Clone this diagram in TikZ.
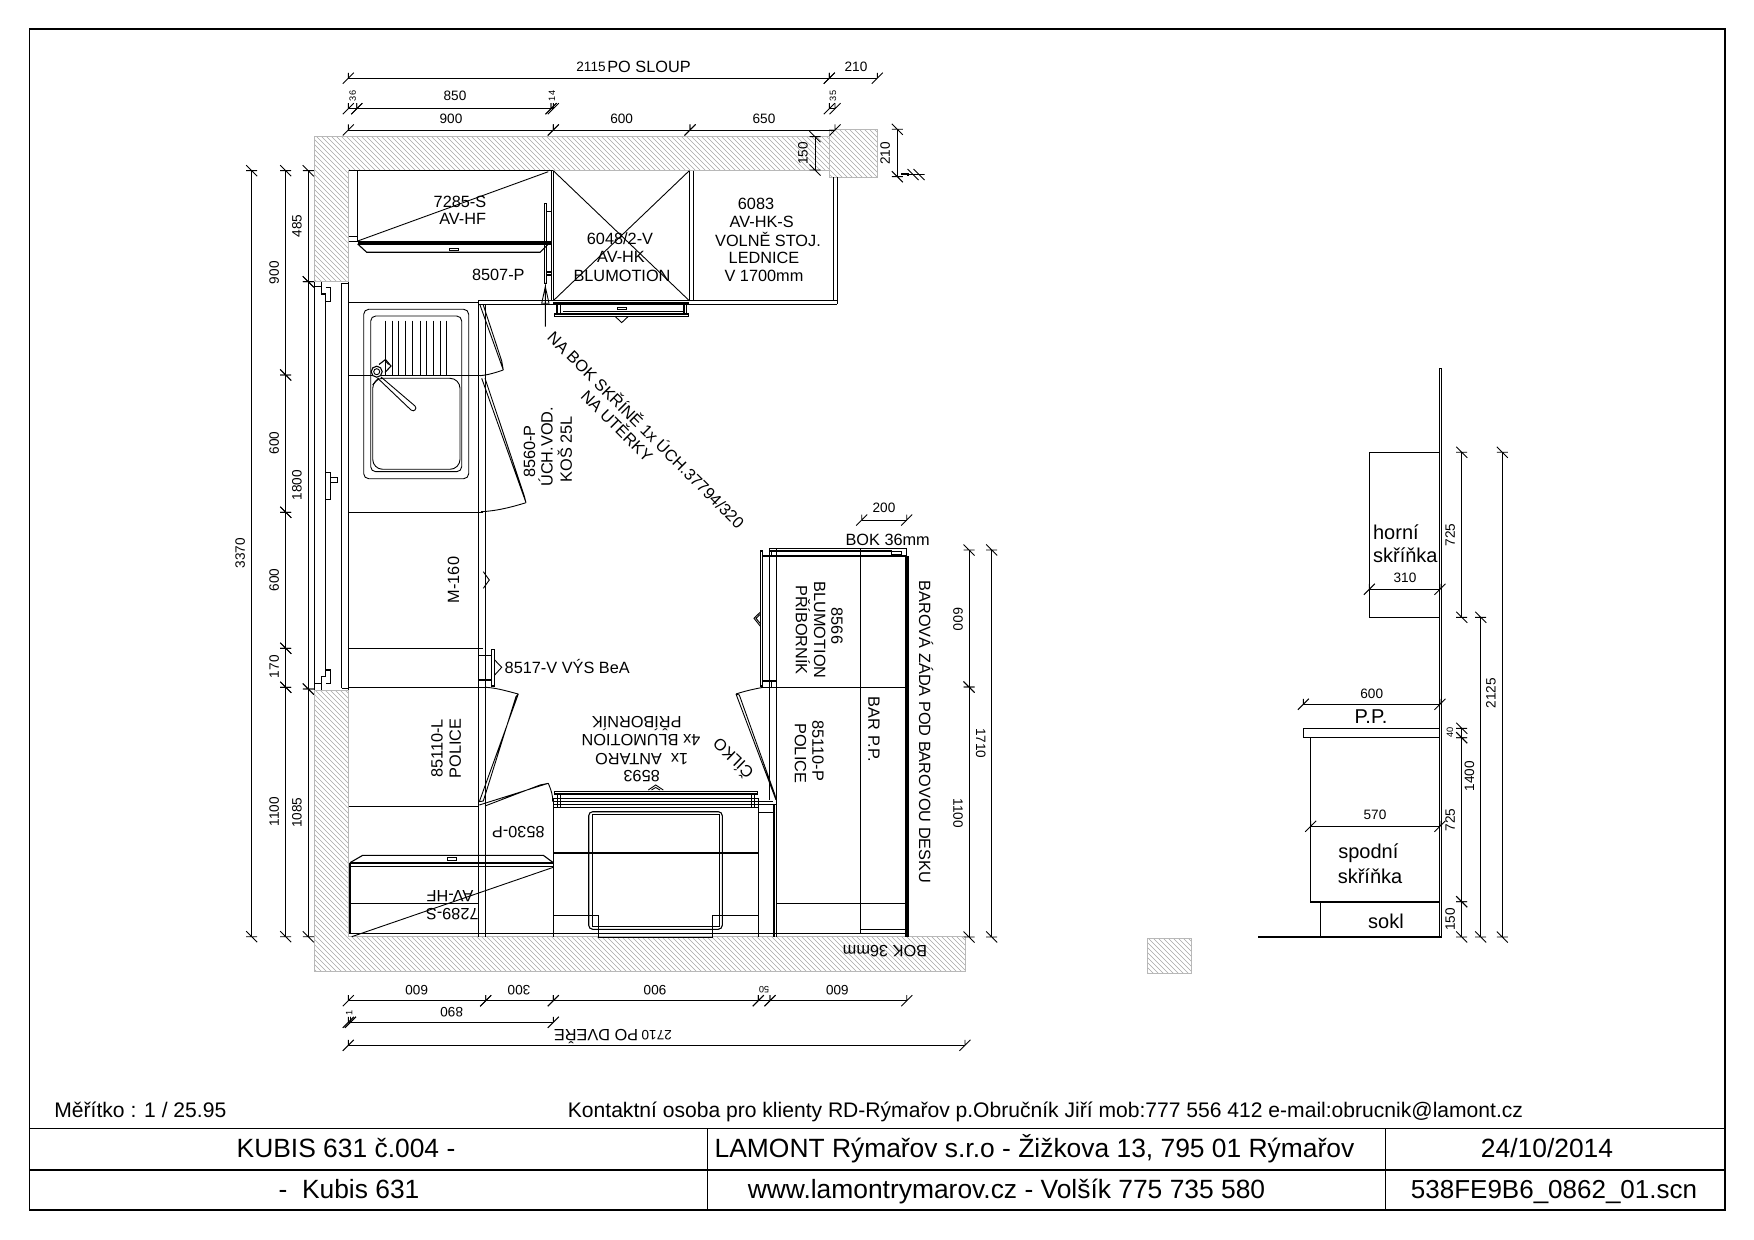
\documentclass[tikz,border=0pt]{standalone}
\usepackage{fontspec}
\setmainfont{Liberation Sans}
\newcount\lbln
\newcommand{\lbl}[4][labtx]{\global\advance\lbln by 1 \node[#1,name=t\the\lbln] at (#2,#3) {#4};}
\newcommand{\tickH}[2]{\draw[tk] (#1-5.5,#2+5.5) -- (#1+5.5,#2-5.5) (#1,#2-5.5) -- (#1,#2);}
\newcommand{\tickV}[2]{\draw[tk] (#1-5.5,#2-5.5) -- (#1+5.5,#2+5.5) (#1-5.5,#2) -- (#1+5.5,#2);}
\newcommand{\dH}[3]{\draw[tk] (#1,#3) -- (#2,#3); \tickH{#1}{#3} \tickH{#2}{#3}}
\newcommand{\dV}[3]{\draw[tk] (#3,#1) -- (#3,#2); \tickV{#3}{#1} \tickV{#3}{#2}}
\newcommand{\hatchfill}[1]{%
  \begin{scope}
    \clip #1;
    \foreach \c in {-1000,-995,...,1800} {\draw[hatchln] (\c,0) -- (\c+1240,1240);}
  \end{scope}
  \draw[hatchbd] #1;}
\tikzset{
  pl/.style={line width=0.55pt,black},
  tk/.style={line width=0.45pt,black},
  thk/.style={line width=1.05pt,black},
  vthk/.style={line width=2pt,black},
  hatchln/.style={line width=0.3pt,black!35},
  hatchbd/.style={line width=0.5pt,black!28},
  labtx/.style={font=\fontsize{8.15}{9}\selectfont,inner sep=0pt,text height=5.85pt,text depth=0pt},
  lab90/.style={labtx,rotate=90},
  labm90/.style={labtx,rotate=-90},
  lab180/.style={labtx,rotate=180},
  dimtx/.style={font=\fontsize{6.8}{8}\selectfont,inner sep=0pt,text height=4.9pt,text depth=0pt},
  dim90/.style={dimtx,rotate=90},
  dimm90/.style={dimtx,rotate=-90},
  dim180/.style={dimtx,rotate=180},
  tinytx/.style={font=\fontsize{4.6}{5}\selectfont,inner sep=0pt,rotate=90},
  bigtx/.style={font=\fontsize{10}{11}\selectfont,inner sep=0pt},
  foottx/.style={font=\fontsize{10.54}{12}\selectfont,inner sep=0pt,anchor=base},
  titletx/.style={font=\fontsize{13.2}{15}\selectfont,inner sep=0pt,anchor=base},
}
\begin{document}
\begin{tikzpicture}[x=0.5pt,y=-0.5pt]
\useasboundingbox (0,0) rectangle (1754,1240);
\fill[white] (0,0) rectangle (1754,1240);
% frame and title block
\draw[pl] (29.3,29) rectangle (1725,1210);
\draw[pl] (29.3,1128.5) -- (1725,1128.5);
\draw[pl] (29.3,1170) -- (1725,1170);
\draw[tk] (707,1128.5) -- (707,1210);
\draw[tk] (1385.5,1128.5) -- (1385.5,1210);
\lbl[foottx,anchor=base west]{54}{1117}{Měřítko : 1 / 25.95}
\lbl[foottx]{1045.5}{1117}{Kontaktní osoba pro klienty RD-Rýmařov p.Obručník Jiří mob:777 556 412 e-mail:obrucnik@lamont.cz}
\lbl[titletx]{346}{1157}{KUBIS 631 č.004 -}
\lbl[titletx]{349}{1198}{-\ \ Kubis 631}
\lbl[titletx]{1034.5}{1157}{LAMONT Rýmařov s.r.o - Žižkova 13, 795 01 Rýmařov}
\lbl[titletx]{1006.5}{1198}{www.lamontrymarov.cz - Volšík 775 735 580}
\lbl[titletx]{1547}{1157}{24/10/2014}
\lbl[titletx,font=\fontsize{13}{15}\selectfont]{1554}{1198}{538FE9B6\_0862\_01.scn}
% walls
\hatchfill{(314,137) -- (829.3,137) -- (829.3,170.7) -- (348.7,170.7) -- (348.7,281.7) -- (314,281.7) -- cycle}
\hatchfill{(829.3,129.3) -- (877.7,129.3) -- (877.7,177.3) -- (829.3,177.3) -- cycle}
\hatchfill{(314,690) -- (348.7,690) -- (348.7,936.7) -- (965.7,936.7) -- (965.7,971.5) -- (314,971.5) -- cycle}
\hatchfill{(1147.5,938.5) -- (1191.5,938.5) -- (1191.5,973) -- (1147.5,973) -- cycle}
% top dimensions
\dH{348.3}{829.3}{78.3}
\dH{829.3}{877.3}{78.3}
\lbl[dimtx]{591}{66.5}{2115}
\lbl{649}{67}{PO SLOUP}
\lbl[dimtx]{856}{67}{210}
\dH{356.7}{551}{108.7}
\dH{348.3}{356.7}{108.7}
\dH{551}{553.3}{108.7}
\dH{829.3}{835}{108.7}
\lbl[dimtx]{455}{96}{850}
\lbl[tinytx]{352.7}{96}{36}
\lbl[tinytx]{552}{96}{14}
\lbl[tinytx]{833}{96}{35}
\dH{348.3}{553.3}{130}
\dH{553.3}{690}{130}
\dH{690}{835}{130}
\lbl[dimtx]{451}{118.7}{900}
\lbl[dimtx]{621.7}{118.7}{600}
\lbl[dimtx]{764}{118.7}{650}
\dV{136.7}{170}{815}
\lbl[dim90]{802.7}{153.3}{150}
\dV{129.3}{176.7}{897.3}
\lbl[dim90]{885}{153.3}{210}
\draw[tk] (913,174.5) -- (919,174.5);
\tickV{913}{174.5} \tickV{919}{174.5}
\draw[thk] (901,174) -- (908,174) -- (908,176);
% left dimensions
\dV{170.7}{936.7}{251.7}
\lbl[dim90]{240}{553}{3370}
\dV{170.7}{375}{285.7}
\dV{375}{512.3}{285.7}
\dV{512.3}{648.3}{285.7}
\dV{648.3}{687.3}{285.7}
\dV{687.3}{936.7}{285.7}
\lbl[dim90]{274}{272.7}{900}
\lbl[dim90]{274}{443}{600}
\lbl[dim90]{274}{580}{600}
\lbl[dim90]{274}{666.7}{170}
\lbl[dim90]{274}{811.7}{1100}
\dV{170.7}{281.7}{308.3}
\dV{281.7}{689}{308.3}
\dV{689}{936.7}{308.3}
\lbl[dim90]{296.7}{226}{485}
\lbl[dim90]{296.7}{485}{1800}
\lbl[dim90]{296.7}{812.7}{1085}
% window
\draw[pl] (314.7,282) -- (314.7,690);
\draw[pl] (314.7,286.7) -- (321.3,286.7) (321.3,282) -- (321.3,294) -- (325.7,294) -- (325.7,676.7) -- (321.3,676.7) -- (321.3,690);
\draw[pl] (314.7,683.3) -- (321.3,683.3);
\draw[pl] (325.7,287.3) -- (330.3,287.3) -- (330.3,301.7) -- (325.7,301.7);
\draw[pl] (325.7,472.3) -- (330.3,472.3) -- (330.3,499.3) -- (325.7,499.3);
\draw[pl] (330.3,477.3) -- (337.3,477.3) -- (337.3,482.7) -- (330.3,482.7);
\draw[pl] (325.7,670) -- (330.3,670) -- (330.3,683.3) -- (325.7,683.3);
\draw[pl] (341.7,688.3) -- (341.7,283.3) -- (348.7,283.3);
\draw[pl] (341.7,688.3) -- (348.7,688.3);
\draw[pl] (348.7,282) -- (348.7,690);
% tall units
\draw[pl] (348.7,170.7) -- (553.3,170.7);
\draw[pl] (357.7,170.7) -- (357.7,241.7);
\draw[pl] (348.7,236.7) -- (357.7,236.7) (348.7,241.7) -- (357.7,241.7);
\draw[thk] (357.7,241.6) -- (551.3,241.6);
\draw[thk] (357.7,244.2) -- (551.3,244.2);
\draw[pl] (357.7,244) -- (366.7,252.3) -- (540,252.3) -- (548.3,244);
\draw[tk] (449.3,248.3) rectangle (458.7,250.7);
\draw[tk] (357.7,241) -- (548.3,171.7);
\draw[pl] (551.3,170.7) -- (551.3,300.7);
\draw[pl] (553.3,170.7) -- (553.3,300.7);
\draw[pl] (689.3,170.7) -- (689.3,300.7);
\draw[pl] (693.3,170.7) -- (693.3,300.7);
\draw[tk] (553.3,170.7) -- (689.3,300.7);
\draw[tk] (689.3,170.7) -- (553.3,300.7);
\draw[pl] (833.7,177.3) -- (833.7,300.7);
\draw[pl] (837.3,177.3) -- (837.3,304.3);
\draw[pl] (478.3,300.7) -- (837.3,300.7);
\draw[pl] (478.3,304.6) -- (837.3,304.6);
\draw[thk] (553.3,303.3) -- (689.3,303.3);
\draw[pl] (554.3,314) rectangle (688.7,316.3);
\draw[tk] (563,311.7) -- (685,311.7);
\draw[pl] (557,304) -- (557,314) (560.3,304) -- (560.3,314) (684,304) -- (684,314) (686.3,304) -- (686.3,314);
\draw[tk] (617.3,307.3) rectangle (626.7,309.5);
\draw[tk] (615,316.3) -- (621.7,322.6) -- (628.4,316.3);
% 8507-P panel
\draw[pl] (544.7,203.3) rectangle (546.7,283.3);
\draw[pl] (546.7,211.7) -- (552,211.7) (546.7,275) -- (552,275) (546.7,272) -- (552,272);
\draw[tk] (545.3,326.7) -- (545.3,286.7) -- (541.7,303.3) -- (549,303.3) -- (545.3,286.7);
% counter
\draw[pl] (348.7,302.3) -- (478.3,302.3);
\draw[pl] (348.7,375.7) -- (483,375.7);
\draw[pl] (348.7,512.3) -- (483,512.3);
\draw[pl] (348.7,648.3) -- (483,648.3);
\draw[pl] (348.7,687.3) -- (485.7,687.3);
\draw[pl] (348.7,806.7) -- (478.7,806.7);
\draw[pl] (478.7,300.7) -- (478.7,936.7);
\draw[pl] (485.7,305) -- (485.7,936.7);
\draw[pl] (348.7,933.5) -- (906.7,933.5);
% sink
\draw[tk,rounded corners=2.5pt] (363.7,309.3) rectangle (468.7,478.7);
\draw[tk,rounded corners=2.5pt] (370.7,316) rectangle (461.7,471.7);
\draw[tk,rounded corners=5pt] (372.7,378.3) rectangle (460,469.3);
\foreach \r in {385,392,398.3,405.7,412.7,420,426,433.3,440,446.7} {\draw[tk] (\r,320.7) -- (\r,375);}
\draw[pl,fill=white] (376.7,371.7) circle[radius=5.5];
\draw[tk] (376.7,371.7) circle[radius=3];
\draw[pl] (379,364.5) -- (385.5,359.5) -- (391,366) -- (385,372.5);
\draw[tk] (386,361.5) -- (388.5,364.5);
\draw[tk] (381,377) -- (415,406) .. controls (417.5,408.5) and (414,412.5) .. (411,410) -- (378,378.5);
\draw[pl] (372.7,385) -- (378.5,378);
% doors on the sink wall
\draw[tk] (480,305) -- (503.3,370) -- (501.7,361) -- (483.3,305);
\draw[tk] (503.3,370) .. controls (496,372.5) and (488,375) .. (480,375.7);
\draw[tk] (481.7,378.3) -- (526,502.7) -- (524,495) -- (485,378.3);
\draw[tk] (526,502.7) .. controls (512,507) and (497,511) .. (481,511.7);
\draw[tk] (483.3,571.7) -- (489.3,580) -- (483.3,588.3);
% 8517-V panel
\draw[pl] (491.3,649.3) rectangle (494.7,686);
\draw[pl] (478.7,655.3) -- (491.3,655.3) (478.7,680) -- (491.3,680);
\draw[tk] (494.7,660) -- (501.7,667.3) -- (494.7,675);
% 85110-L door
\draw[tk] (518.3,694) -- (479.3,801.7) -- (483.3,801) -- (516,696.5) -- (518.3,694);
\draw[tk] (518.3,694) .. controls (510,692) and (498,688) .. (485.7,687.3);
% corner door
\draw[tk] (479.3,805) -- (548.3,783.3) -- (540,785) -- (485,806);
\draw[tk] (548.3,783.3) .. controls (551,790) and (553,795) .. (552.7,801.7);
% lower cabinet 7289
\draw[thk] (350,862.7) -- (553.3,862.7);
\draw[pl] (350,866.7) -- (553.3,866.7);
\draw[pl] (350,862.7) -- (362.7,855.3) -- (543.3,855.3) -- (553.3,862.7);
\draw[tk] (447.3,857.3) rectangle (456.7,860.7);
\draw[pl] (350,862.7) -- (350,933.5);
\draw[pl] (348.7,903.3) -- (478.7,903.3);
\draw[tk] (351.7,936.7) -- (553.3,867.3);
\draw[pl] (553.3,799) -- (553.3,936.7);
% oven
\draw[pl] (554.3,791.7) rectangle (757.3,794);
\draw[pl] (553.3,798.3) -- (758.3,798.3) (553.3,801.4) -- (773,801.4) (553.3,804.3) -- (776,804.3) (553.3,807.3) -- (758.3,807.3);
\draw[pl] (557.3,794) -- (557.3,807.3) (560.7,794) -- (560.7,807.3) (751.7,794) -- (751.7,807.3) (754.3,794) -- (754.3,807.3);
\draw[pl] (758.3,798.3) -- (758.3,936.7);
\draw[pl] (758.3,812.7) -- (774,812.7);
\draw[pl] (774,805) -- (774,936.7);
\draw[pl,rounded corners=2pt] (588.7,811.7) rectangle (722.3,929.3);
\draw[pl] (592.3,814.3) rectangle (719.7,926.3);
\draw[pl] (553.3,853) -- (758.3,853);
\draw[pl] (553.3,915.3) -- (598.7,915.3) -- (598.7,937.3) -- (712.3,937.3) -- (712.3,915.3) -- (758.3,915.3);
\draw[tk] (648.3,790) -- (655.7,785) -- (663.3,790) (651.5,790) -- (655.7,787.5) -- (660,790);
% bar
\draw[pl] (769.3,548.7) -- (906.7,548.7) -- (906.7,556);
\draw[pl] (769.3,551) -- (891.7,551);
\draw[pl] (769.3,556) -- (906.7,556);
\draw[tk] (891.7,551) rectangle (901.7,554.3);
\draw[pl] (760.7,551) rectangle (762.7,686);
\draw[pl] (769.3,548.7) -- (769.3,800);
\draw[pl] (771.6,551) -- (771.6,556) (771.6,682) -- (771.6,687.3);
\draw[pl] (762.7,556) -- (776.7,556) (762.7,681) -- (776.7,681);
\draw[pl] (776.7,548.7) -- (776.7,936.7);
\draw[pl] (773.7,805) -- (773.7,936.7);
\draw[pl] (860.7,548.7) -- (860.7,933.5);
\draw[vthk] (906.7,556) -- (906.7,936.7);
\draw[pl] (762.7,687.3) -- (906.7,687.3);
\draw[pl] (776.7,903.3) -- (906.7,903.3);
\draw[pl] (860.7,929.3) -- (906.7,929.3);
\draw[tk] (760.7,611.7) -- (754,618.3) -- (760.7,626.7) (760.7,614) -- (756,618.3) -- (760.7,624);
\draw[tk] (736,694) -- (776,800) -- (775,795) -- (739.3,695) -- (736,694);
\draw[tk] (736,694) .. controls (745,691) and (754,689) .. (763.3,687.3);
% bar dimensions
\dH{861.7}{906.7}{520}
\lbl[dimtx]{884}{507.3}{200}
\lbl{887.7}{539.3}{BOK 36mm}
\dV{550}{687}{969}
\dV{687}{937}{969}
\dV{550}{937}{991.7}
\lbl[dimm90]{958.3}{619.3}{600}
\lbl[dimm90]{958.3}{813.3}{1100}
\lbl[dimm90]{981}{743.3}{1710}
% bottom dimensions
\dH{348.3}{485.7}{1000.7}
\dH{485.7}{553.3}{1000.7}
\dH{553.3}{758.3}{1000.7}
\dH{758.3}{770}{1000.7}
\dH{770}{906.7}{1000.7}
\lbl[dim180]{416.7}{990}{600}
\lbl[dim180]{519}{990}{300}
\lbl[dim180]{655}{990}{900}
\lbl[tinytx,rotate=90]{764}{990}{50}
\lbl[dim180]{837.3}{990}{600}
\dH{350.5}{553.3}{1022.3}
\dH{348.3}{350.5}{1022.3}
\lbl[dim180]{451.7}{1012.3}{890}
\lbl[tinytx]{349.3}{1013}{1}
\dH{348.3}{965}{1045.3}
\lbl[dim180]{656.7}{1035}{2710}
\lbl[lab180]{596}{1035}{PO DVEŘE}
\lbl[lab180]{885}{951.7}{BOK 36mm}
% plan labels
\lbl{460}{201.7}{7285-S}
\lbl{462.7}{219}{AV-HF}
\lbl{620}{239}{6048/2-V}
\lbl{621}{257}{AV-HK}
\lbl{622}{276}{BLUMOTION}
\lbl{498.3}{275}{8507-P}
\lbl{756}{204}{6083}
\lbl{761.7}{222}{AV-HK-S}
\lbl{768}{240.7}{VOLNĚ STOJ.}
\lbl{764}{258}{LEDNICE}
\lbl{764}{276}{V 1700mm}
\lbl[labtx,rotate=-45]{646}{430}{NA BOK SKŘÍNĚ 1x ÚCH.37794/320}
\lbl[labtx,rotate=-45]{617}{426}{NA UTĚRKY}
\lbl[lab90]{529.3}{451.7}{8560-P}
\lbl[lab90]{546.7}{446.7}{ÚCH.VOD.}
\lbl[lab90]{566}{449}{KOŠ 25L}
\lbl[lab90]{453.3}{580}{M-160}
\lbl[labtx,anchor=west]{504.3}{667.3}{8517-V VÝS BeA}
\lbl[lab90]{436.7}{748.3}{85110-L}
\lbl[lab90]{455}{748.3}{POLICE}
\lbl[lab180]{518.3}{832.7}{8530-P}
\lbl[lab180]{450}{896.7}{AV-HF}
\lbl[lab180]{452.3}{914}{7289-S}
\lbl[lab180]{641.7}{776.7}{8593}
\lbl[lab180]{641.7}{759.3}{1x\ \ ANTARO}
\lbl[lab180]{641}{740.7}{4x BLUMOTION}
\lbl[lab180]{636.7}{722.7}{PŘÍBORNÍK}
\lbl[labtx,rotate=136]{733.3}{758.3}{ČÍLKO}
\lbl[labm90]{837.3}{626}{8566}
\lbl[labm90]{820}{630}{BLUMOTION}
\lbl[labm90]{801.7}{630}{PŘÍBORNÍK}
\lbl[labm90]{818.3}{750.7}{85110-P}
\lbl[labm90]{800.7}{753.3}{POLICE}
\lbl[labm90]{874.3}{729.3}{BAR P.P.}
\lbl[labm90]{925}{732}{BAROVÁ ZÁDA POD BAROVOU DESKU}
% elevation
\draw[pl] (1439.3,936.7) -- (1439.3,368.3) -- (1441.7,368.3) -- (1441.7,936.7);
\draw[thk] (1258.3,937) -- (1441.7,937);
\draw[pl] (1439.3,452.3) -- (1369.3,452.3) -- (1369.3,617.3) -- (1439.3,617.3);
\dH{1369.3}{1440}{589.3}
\lbl[dimtx]{1405}{577.7}{310}
\lbl[bigtx,anchor=west]{1372.7}{532.7}{horní}
\lbl[bigtx,anchor=west]{1372.7}{555}{skříňka}
\dH{1303.3}{1440}{704.3}
\lbl[dimtx]{1371.7}{693.3}{600}
\lbl[bigtx]{1371}{716.7}{P.P.}
\draw[pl] (1303.3,728.3) rectangle (1439.3,737.3);
\draw[pl] (1310.7,737.3) -- (1310.7,902) -- (1439.3,902);
\draw[pl] (1320.7,902) -- (1320.7,937);
\dH{1310.7}{1440}{826.3}
\lbl[dimtx]{1375}{815}{570}
\lbl[bigtx]{1368.3}{853.3}{spodní}
\lbl[bigtx]{1370}{876}{skříňka}
\lbl[bigtx]{1386}{921.7}{sokl}
\dV{452.3}{617.3}{1461.7}
\dV{728.3}{737.7}{1461.7}
\dV{737.7}{901.7}{1461.7}
\dV{901.7}{937}{1461.7}
\dV{617.3}{937}{1480.7}
\dV{452.3}{937}{1502.3}
\lbl[dim90]{1450}{535}{725}
\lbl[dim90]{1490.7}{693.3}{2125}
\lbl[tinytx]{1450}{732.7}{40}
\lbl[dim90]{1469.3}{776}{1400}
\lbl[dim90]{1450}{820}{725}
\lbl[dim90]{1450}{919.3}{150}
\end{tikzpicture}
\end{document}
